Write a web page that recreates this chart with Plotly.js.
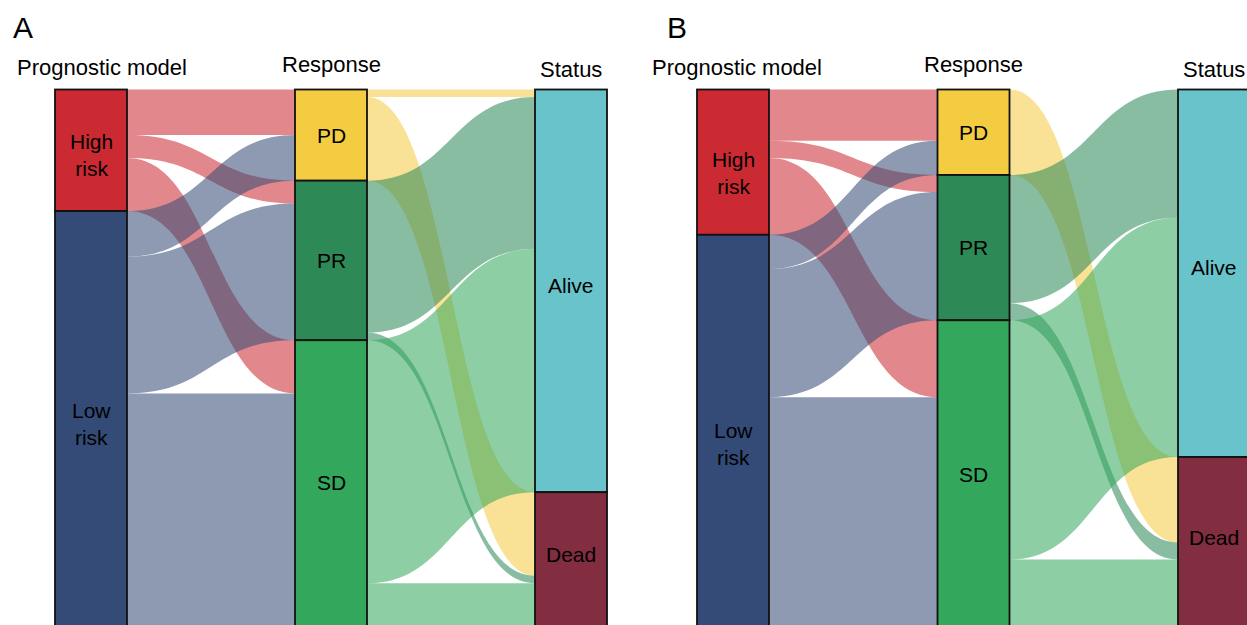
<!DOCTYPE html>
<html>
<head>
<meta charset="utf-8">
<script src="https://cdn.plot.ly/plotly-3.0.1.min.js"></script>
<style>
  html, body { margin: 0; padding: 0; background: #ffffff; overflow: hidden; }
  #wrap { width: 1247px; height: 625px; overflow: hidden; position: relative; }
  #chart { width: 1247px; height: 700px; }
</style>
</head>
<body>
<div id="wrap"><div id="chart"></div></div>
<script>
// ---------------- data ----------------
const nodeNames = ['High risk', 'Low risk', 'PD', 'PR', 'SD', 'Alive', 'Dead'];
const nodeLabelText = ['High<br>risk', 'Low<br>risk', 'PD', 'PR', 'SD', 'Alive', 'Dead'];
const nodeColumn = [0, 0, 1, 1, 1, 2, 2];
const columnTitles = ['Prognostic model', 'Response', 'Status'];
const panelLetters = ['A', 'B'];
const nodeColors = ['#cc2a32', '#334b76', '#f4cc42', '#2d8a57', '#33a75c', '#69c3cb', '#822d40'];
const linkSource = [0, 0, 0, 1, 1, 1, 2, 2, 3, 3, 4, 4];
const linkTarget = [2, 3, 4, 2, 3, 4, 5, 6, 5, 6, 5, 6];
// patients per flow
const flowsA = [6, 3, 7, 6, 18, 32, 1, 11, 20, 1, 32, 7];
const flowsB = [6, 2, 9, 4, 15, 28, 0, 10, 15, 2, 28, 9];

// ---------------- layout constants ----------------
const W = 1247, H = 700;
const TOP = 89.5, HEIGHT = 547;      // px of the node stack
const THICK = 72;
const panels = [
  { flows: flowsA, c0: 91, c1: 571, letterX: 11, headerDx: 11,
    labelDy: [5, 0, 0, 0, -6, -5, -10] },
  { flows: flowsB, c0: 733, c1: 1214, letterX: 665, headerDx: 4,
    labelDy: [11, 8, 0, 0, -4, -6, -9] }
];
const headerY = [67.5, 64.5, 70];
const FONT = 'Liberation Sans, Arial, sans-serif';

function hexToRgb(h) {
  const n = parseInt(h.slice(1), 16);
  return [(n >> 16) & 255, (n >> 8) & 255, n & 255];
}
function linkColor(h) {
  const c = hexToRgb(h);
  return 'rgba(' + c[0] + ',' + c[1] + ',' + c[2] + ',0.56)';
}
const px2y = p => 1 - p / H;
const px2x = p => p / W;

const traces = [];
const annotations = [];

panels.forEach((p, pi) => {
  const src = [], tgt = [], val = [], lcol = [];
  p.flows.forEach((v, i) => {
    if (v > 0) {
      src.push(linkSource[i]); tgt.push(linkTarget[i]); val.push(v);
      lcol.push(linkColor(nodeColors[linkSource[i]]));
    }
  });
  const nodeVal = nodeNames.map((_, n) => {
    let out = 0, inn = 0;
    p.flows.forEach((v, i) => { if (linkSource[i] === n) out += v; if (linkTarget[i] === n) inn += v; });
    return Math.max(out, inn);
  });
  const total = nodeVal.filter((_, n) => nodeColumn[n] === 0).reduce((a, b) => a + b, 0);
  const cum = [0, 0, 0];
  const yc = [];
  nodeNames.forEach((_, n) => {
    const c = nodeColumn[n];
    yc[n] = (cum[c] + nodeVal[n] / 2) / total;
    cum[c] += nodeVal[n];
  });
  const xs = nodeColumn.map(c => c === 0 ? 1e-6 : c / 2);

  traces.push({
    type: 'sankey',
    arrangement: 'fixed',
    orientation: 'h',
    domain: { x: [px2x(p.c0), px2x(p.c1)], y: [px2y(TOP + HEIGHT), px2y(TOP)] },
    node: {
      label: nodeNames.map(() => ''),
      customdata: nodeNames,
      hovertemplate: '%{customdata}: %{value}<extra></extra>',
      x: xs,
      y: yc,
      pad: 0,
      thickness: THICK,
      color: nodeColors,
      line: { color: '#111111', width: 1.8 }
    },
    link: {
      source: src,
      target: tgt,
      value: val,
      color: lcol,
      line: { width: 0 }
    }
  });

  // node labels inside the boxes
  nodeNames.forEach((_, n) => {
    const cx = p.c0 + (p.c1 - p.c0) * (nodeColumn[n] / 2);
    const cy = TOP + yc[n] * HEIGHT;
    annotations.push({
      xref: 'paper', yref: 'paper',
      x: px2x(cx), y: px2y(cy),
      yshift: -p.labelDy[n],
      xanchor: 'center', yanchor: 'middle',
      text: nodeLabelText[n], showarrow: false,
      font: { size: 21, color: '#000000', family: FONT }
    });
  });
  // column headers
  columnTitles.forEach((t, c) => {
    let cx = p.c0 + (p.c1 - p.c0) * (c / 2);
    if (c === 0) cx += p.headerDx;
    annotations.push({
      xref: 'paper', yref: 'paper',
      x: px2x(cx), y: px2y(headerY[c]),
      xanchor: 'center', yanchor: 'middle',
      text: t, showarrow: false,
      font: { size: 22, color: '#000000', family: FONT }
    });
  });
  // panel letter
  annotations.push({
    xref: 'paper', yref: 'paper',
    x: px2x(p.letterX), y: px2y(27.5),
    xanchor: 'left', yanchor: 'middle',
    text: panelLetters[pi], showarrow: false,
    font: { size: 30, color: '#000000', family: FONT }
  });
});

const layout = {
  width: W, height: H,
  margin: { l: 0, r: 0, t: 0, b: 0 },
  paper_bgcolor: '#ffffff',
  font: { family: FONT, size: 21, color: '#000000' },
  annotations: annotations,
  showlegend: false
};

Plotly.newPlot('chart', traces, layout, { displayModeBar: false, responsive: false });
</script>
</body>
</html>
